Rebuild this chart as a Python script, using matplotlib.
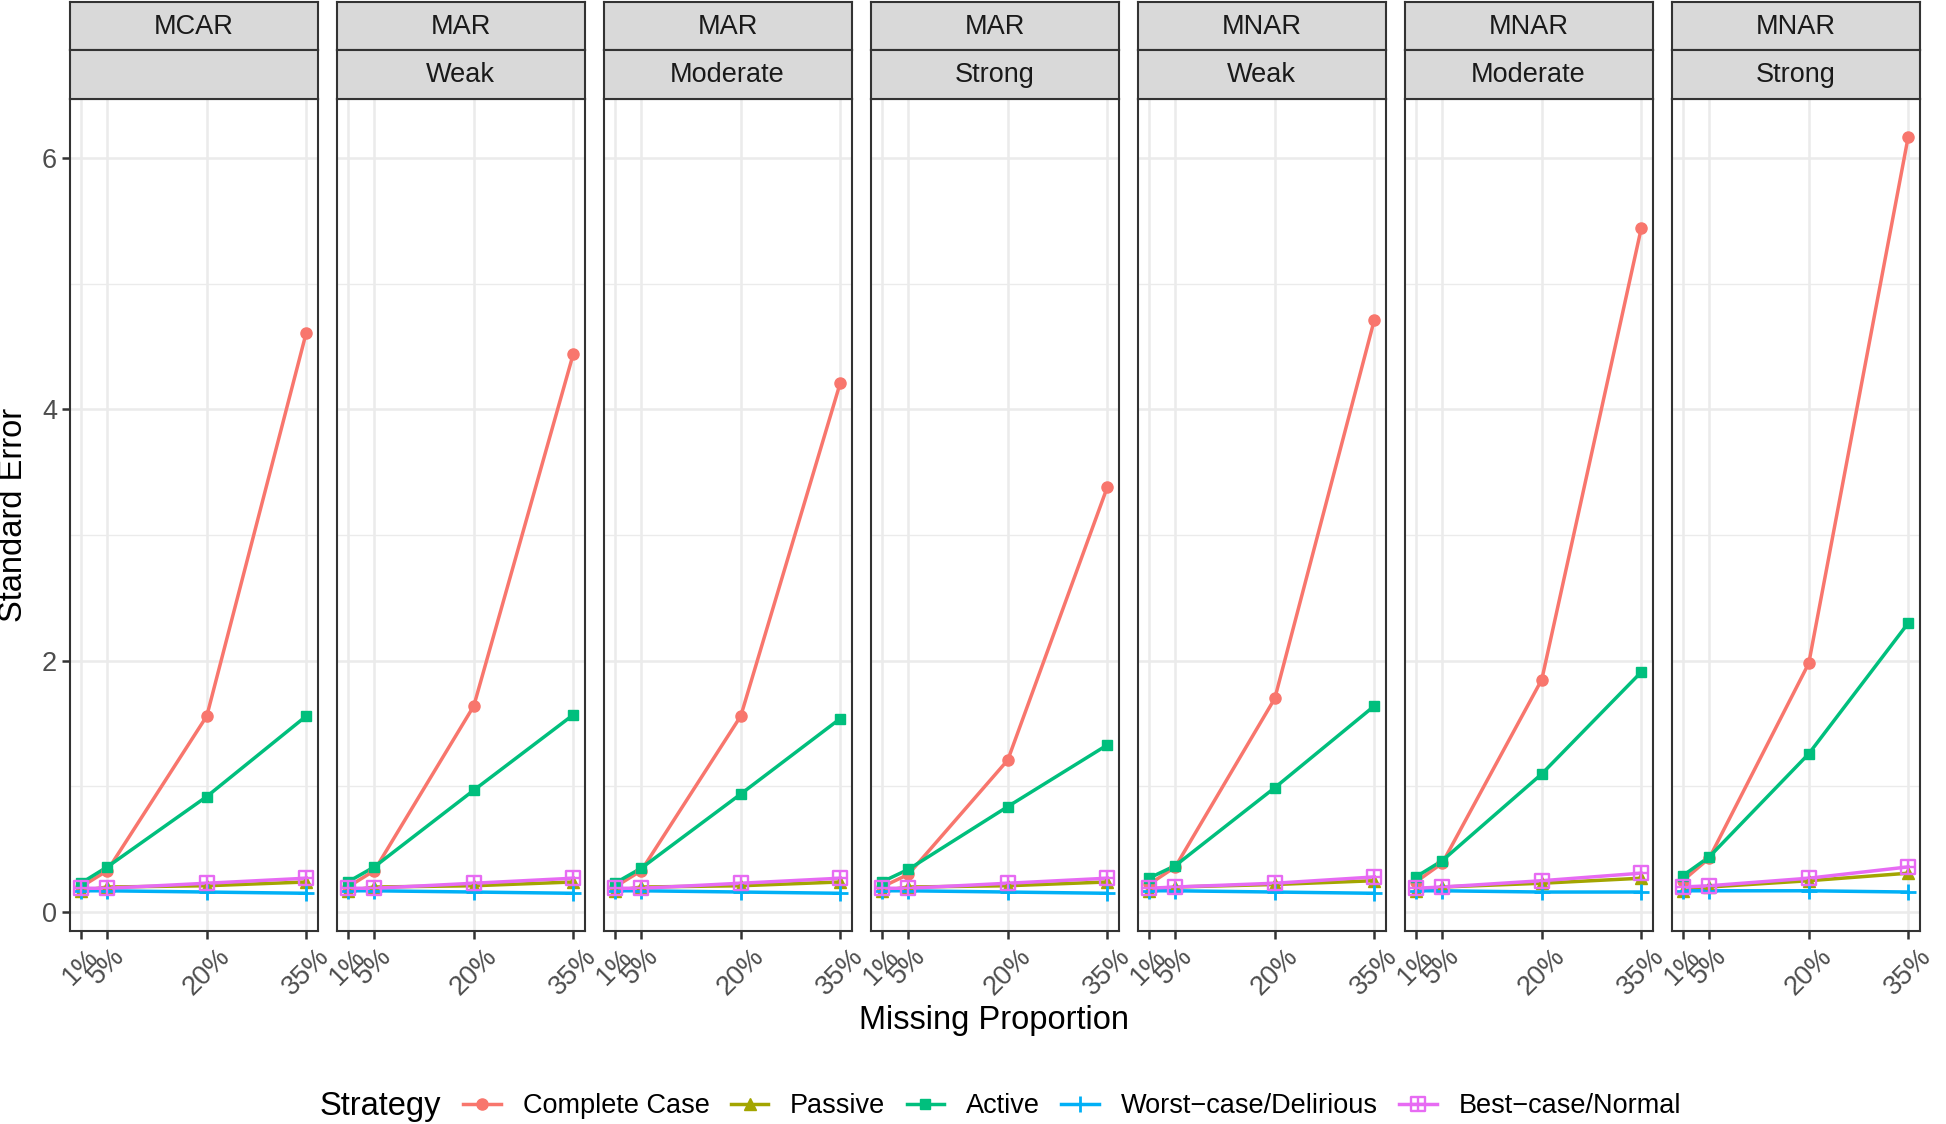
import matplotlib
matplotlib.use("Agg")
import matplotlib.pyplot as plt
from matplotlib.path import Path
from matplotlib.lines import Line2D
import numpy as np

plt.rcParams['font.family'] = ['Liberation Sans', 'DejaVu Sans']

# data
props = [0.01, 0.05, 0.20, 0.35]
prop_labels = ['1%', '5%', '20%', '35%']
mechanisms = ['MCAR', 'MAR', 'MAR', 'MAR', 'MNAR', 'MNAR', 'MNAR']
strengths = ['', 'Weak', 'Moderate', 'Strong', 'Weak', 'Moderate', 'Strong']

complete_case = [
    [0.20, 0.33, 1.56, 4.61],
    [0.20, 0.33, 1.64, 4.44],
    [0.20, 0.33, 1.56, 4.21],
    [0.20, 0.30, 1.21, 3.38],
    [0.22, 0.36, 1.70, 4.71],
    [0.24, 0.39, 1.85, 5.44],
    [0.25, 0.43, 1.98, 6.17],
]
passive = [
    [0.17, 0.20, 0.21, 0.24],
    [0.17, 0.20, 0.21, 0.24],
    [0.17, 0.20, 0.21, 0.24],
    [0.17, 0.20, 0.21, 0.24],
    [0.17, 0.20, 0.22, 0.25],
    [0.17, 0.20, 0.23, 0.27],
    [0.17, 0.20, 0.25, 0.31],
]
active = [
    [0.23, 0.36, 0.92, 1.56],
    [0.24, 0.36, 0.97, 1.57],
    [0.23, 0.35, 0.94, 1.54],
    [0.24, 0.34, 0.84, 1.33],
    [0.27, 0.37, 0.99, 1.64],
    [0.28, 0.41, 1.10, 1.91],
    [0.29, 0.44, 1.26, 2.30],
]
worst_case = [
    [0.17, 0.17, 0.16, 0.15],
    [0.17, 0.17, 0.16, 0.15],
    [0.17, 0.17, 0.16, 0.15],
    [0.17, 0.17, 0.16, 0.15],
    [0.17, 0.17, 0.16, 0.15],
    [0.17, 0.17, 0.16, 0.16],
    [0.17, 0.17, 0.17, 0.16],
]
best_case = [
    [0.19, 0.19, 0.23, 0.27],
    [0.19, 0.19, 0.23, 0.27],
    [0.19, 0.19, 0.23, 0.27],
    [0.19, 0.19, 0.23, 0.27],
    [0.19, 0.20, 0.23, 0.28],
    [0.19, 0.20, 0.25, 0.31],
    [0.20, 0.21, 0.27, 0.36],
]

strategies = ['Complete Case', 'Passive', 'Active', 'Worst\u2212case/Delirious', 'Best\u2212case/Normal']
colors = ['#F8766D', '#A3A500', '#00BF7D', '#00B0F6', '#E76BF3']

# square with cross marker (ggplot shape 12)
sq_plus = Path(
    [(-1, -1), (1, -1), (1, 1), (-1, 1), (-1, -1), (-1, 0), (1, 0), (0, -1), (0, 1)],
    [Path.MOVETO, Path.LINETO, Path.LINETO, Path.LINETO, Path.CLOSEPOLY,
     Path.MOVETO, Path.LINETO, Path.MOVETO, Path.LINETO])

styles = [
    dict(marker='o', ms=8, mfc=colors[0], mec=colors[0]),
    dict(marker='^', ms=8.5, mfc=colors[1], mec=colors[1]),
    dict(marker='s', ms=7.5, mfc=colors[2], mec=colors[2]),
    dict(marker='+', ms=12, mew=2, mfc='none', mec=colors[3]),
    dict(marker=sq_plus, ms=9.5, mew=1.7, mfc='none', mec=colors[4]),
]

W, H = 1946, 1124
fig = plt.figure(figsize=(W / 100, H / 100), dpi=100)

panel_top, panel_bot = 99, 931
edge = '#333333'
small = 19.5
big = 23.5

for i in range(7):
    left = (69.5 + i * 267) / W
    width = 248 / W
    ax = fig.add_axes([left, 1 - panel_bot / H, width, (panel_bot - panel_top) / H])
    series = [complete_case[i], passive[i], active[i], worst_case[i], best_case[i]]
    for k, ys in enumerate(series):
        ax.plot(props, ys, color=colors[k], lw=2.5, zorder=2 + k * 0.01)
    for k, ys in enumerate(series):
        ax.plot(props, ys, ls='none', zorder=3 + k * 0.01, **styles[k])
    ax.set_xlim(-0.007, 0.367)
    ax.set_ylim(-0.15, 6.47)
    ax.set_xticks(props)
    ax.set_xticklabels(prop_labels, rotation=45, fontsize=small, color='#4D4D4D')
    ax.set_yticks([0, 2, 4, 6])
    ax.set_yticks([1, 3, 5], minor=True)
    if i == 0:
        ax.set_yticklabels(['0', '2', '4', '6'], fontsize=small, color='#4D4D4D')
    else:
        ax.tick_params(axis='y', which='major', labelleft=False)
    ax.tick_params(axis='both', which='major', length=6, width=1.8, color=edge, pad=3)
    if i != 0:
        ax.tick_params(axis='y', which='major', length=0)
    ax.tick_params(axis='y', which='minor', length=0)
    ax.grid(True, which='major', color='#EBEBEB', lw=1.8, zorder=0)
    ax.grid(True, which='minor', axis='y', color='#EBEBEB', lw=1.0, zorder=0)
    ax.set_axisbelow(True)
    for s in ax.spines.values():
        s.set_color(edge)
        s.set_linewidth(1.5)

    # facet strips
    for j, (txt, top, bot) in enumerate([(mechanisms[i], 1.5, 50), (strengths[i], 50, panel_top)]):
        sax = fig.add_axes([left, 1 - bot / H, width, (bot - top) / H])
        sax.set_facecolor('#D9D9D9')
        sax.set_xticks([])
        sax.set_yticks([])
        for s in sax.spines.values():
            s.set_color(edge)
            s.set_linewidth(1.5)
        sax.text(0.5, 0.48, txt, ha='center', va='center', fontsize=small, color='#1A1A1A',
                 transform=sax.transAxes)

fig.text((69.5 + 1919.5) / 2 / W, 1 - 1021 / H, 'Missing Proportion', ha='center', va='center',
         fontsize=big)
fig.text(14 / W, 1 - (panel_top + panel_bot) / 2 / H, 'Standard Error', ha='center', va='center',
         rotation=90, fontsize=big)

handles = [Line2D([], [], color=colors[k], lw=2.5, **styles[k]) for k in range(5)]
fig.legend(handles, strategies, loc='center', bbox_to_anchor=(1072 / W, 1 - 1106 / H), ncol=5,
           frameon=False, fontsize=small, handlelength=1.4, handletextpad=0.8, columnspacing=0.78)
fig.text(320 / W, 1 - 1106 / H, 'Strategy', ha='left', va='center', fontsize=big)

fig.savefig('out.png', dpi=100)
